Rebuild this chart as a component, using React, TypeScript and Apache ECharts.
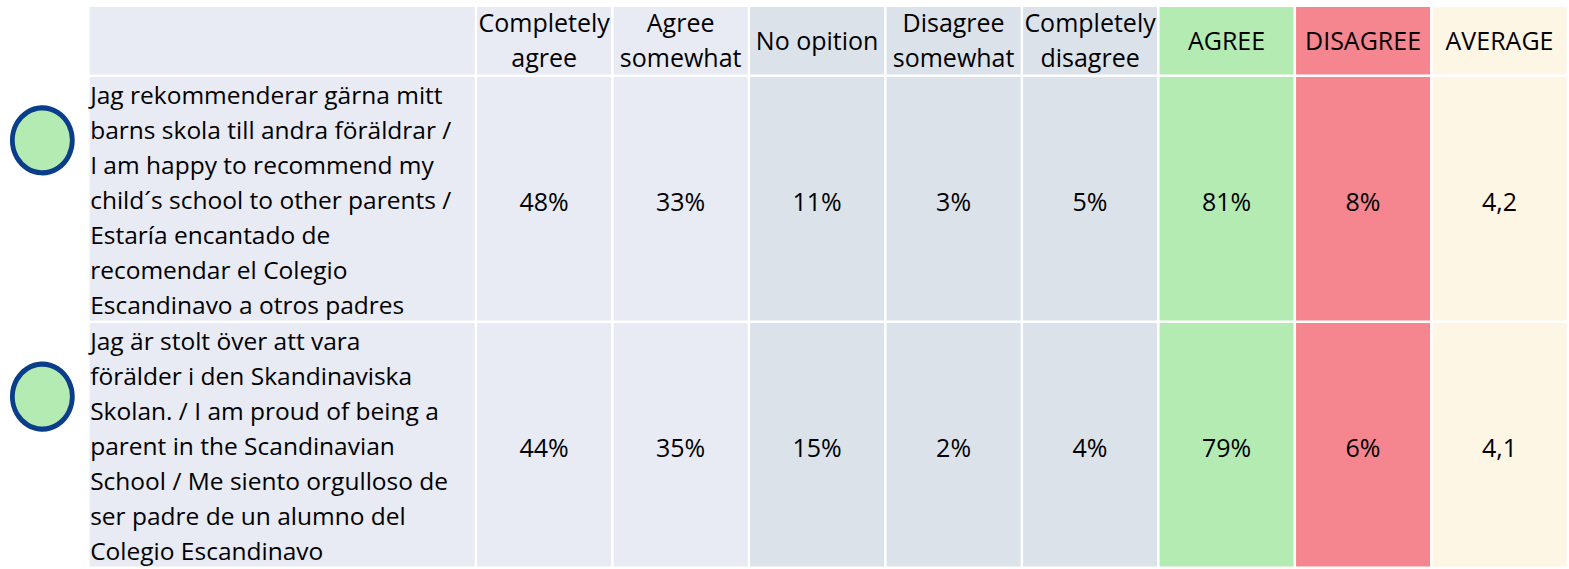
import React, { useEffect, useRef } from "react";
import * as echarts from "echarts";

// ---------- data ----------
const columnLabels = [
  "Completely\nagree",
  "Agree\nsomewhat",
  "No opition",
  "Disagree\nsomewhat",
  "Completely\ndisagree",
  "AGREE",
  "DISAGREE",
  "AVERAGE",
];

const questions = [
  "Jag rekommenderar gärna mitt\nbarns skola till andra föräldrar /\nI am happy to recommend my\nchild´s school to other parents /\nEstaría encantado de\nrecomendar el Colegio\nEscandinavo a otros padres",
  "Jag är stolt över att vara\nförälder i den Skandinaviska\nSkolan. / I am proud of being a\nparent in the Scandinavian\nSchool / Me siento orgulloso de\nser padre de un alumno del\nColegio Escandinavo",
];

const completelyAgree = [48, 44];
const agreeSomewhat = [33, 35];
const noOpinion = [11, 15];
const disagreeSomewhat = [3, 2];
const completelyDisagree = [5, 4];
const agreeTotal = [81, 79];
const disagreeTotal = [8, 6];
const averageScore = [4.2, 4.1];

// ---------- layout / style ----------
const PX_X = 137;
const LEFT_PX = 90;
const Q_UNITS = 389 / PX_X;
const PX_Y = 247.5;
const HEAD_UNITS = 70.5 / PX_Y;
const GAP = 2.5;
const GRID_W = 1575;
const FONT = "'Open Sans', 'Noto Sans', sans-serif";

const colFills = [
  "#e8eaf4",
  "#e8eaf4",
  "#e8eaf4",
  "#dce2ea",
  "#dce2ea",
  "#dce2ea",
  "#b3ebb3",
  "#f5868f",
  "#fef6e4",
];
const markerFill = "#b3ebb3";
const markerStroke = "#0b3e8a";
const markerX = (42.5 - LEFT_PX) / PX_X;
const markerOffsets = [0.257, 0.299];

const colLeft = (c: number) => (c === 0 ? 0 : Q_UNITS + (c - 1));
const rowTop = (r: number) => (r === 0 ? 0 : HEAD_UNITS + (r - 1));

type Cell = { c: number; r: number; text: string; kind: "head" | "question" | "value" };

function buildCells(): Cell[] {
  const cells: Cell[] = [];
  cells.push({ c: 0, r: 0, text: "", kind: "head" });
  columnLabels.forEach((l, i) => cells.push({ c: i + 1, r: 0, text: l, kind: "head" }));
  const pctCols = [
    completelyAgree,
    agreeSomewhat,
    noOpinion,
    disagreeSomewhat,
    completelyDisagree,
    agreeTotal,
    disagreeTotal,
  ];
  questions.forEach((q, qi) => {
    const r = qi + 1;
    cells.push({ c: 0, r, text: q, kind: "question" });
    pctCols.forEach((arr, ci) =>
      cells.push({ c: ci + 1, r, text: `${arr[qi]}%`, kind: "value" })
    );
    cells.push({
      c: 8,
      r,
      text: averageScore[qi].toFixed(1).replace(".", ","),
      kind: "value",
    });
  });
  return cells;
}

export default function App() {
  const ref = useRef<HTMLDivElement>(null);

  useEffect(() => {
    document.body.style.margin = "0";
    if (!ref.current) return;
    const chart = echarts.init(ref.current, undefined, { renderer: "svg" });
    const cells = buildCells();

    const renderItem = (params: any, api: any) => {
      const cell = cells[params.dataIndex];
      const c = api.value(0);
      const r = api.value(1);
      const p0 = api.coord([colLeft(c), rowTop(r)]);
      const p1 = api.coord([colLeft(c + 1), rowTop(r + 1)]);
      const w = p1[0] - p0[0] - GAP;
      const h = p1[1] - p0[1] - GAP;
      const children: any[] = [
        {
          type: "rect",
          shape: { x: p0[0], y: p0[1], width: w, height: h },
          style: { fill: colFills[c] },
        },
      ];
      if (cell.text) {
        if (cell.kind === "question") {
          children.push({
            type: "text",
            style: {
              text: cell.text,
              x: p0[0] + 0.5,
              y: p0[1] + h / 2 + 1,
              align: "left",
              verticalAlign: "middle",
              fill: "#000",
              fontFamily: FONT,
              fontSize: 24.5,
              lineHeight: 35,
            },
          });
        } else if (cell.kind === "head") {
          children.push({
            type: "text",
            style: {
              text: cell.text,
              x: p0[0] + w / 2,
              y: p0[1] + h / 2 - 1,
              align: "center",
              verticalAlign: "middle",
              fill: "#000",
              fontFamily: FONT,
              fontSize: 25,
              lineHeight: 35,
            },
          });
        } else {
          children.push({
            type: "text",
            style: {
              text: cell.text,
              x: p0[0] + w / 2,
              y: p0[1] + h / 2 + 2,
              align: "center",
              verticalAlign: "middle",
              fill: "#000",
              fontFamily: FONT,
              fontSize: 25,
            },
          });
        }
      }
      return { type: "group", children };
    };

    chart.setOption({
      animation: false,
      backgroundColor: "#ffffff",
      grid: { left: 0, top: 7, width: GRID_W, height: PX_Y * (HEAD_UNITS + questions.length) },
      xAxis: {
        type: "value",
        min: -LEFT_PX / PX_X,
        max: (GRID_W - LEFT_PX) / PX_X,
        show: false,
      },
      yAxis: {
        type: "value",
        inverse: true,
        min: 0,
        max: HEAD_UNITS + questions.length,
        show: false,
      },
      series: [
        {
          type: "custom",
          renderItem,
          data: cells.map((cl) => [cl.c, cl.r]),
          silent: true,
        },
        {
          type: "scatter",
          symbol: "circle",
          symbolSize: [60, 65],
          silent: true,
          itemStyle: { color: markerFill, borderColor: markerStroke, borderWidth: 5, opacity: 1 },
          data: questions.map((_, i) => [markerX, rowTop(i + 1) + markerOffsets[i]]),
        },
      ],
    });

    return () => chart.dispose();
  }, []);

  return <div ref={ref} style={{ width: 1569, height: 569 }} />;
}
